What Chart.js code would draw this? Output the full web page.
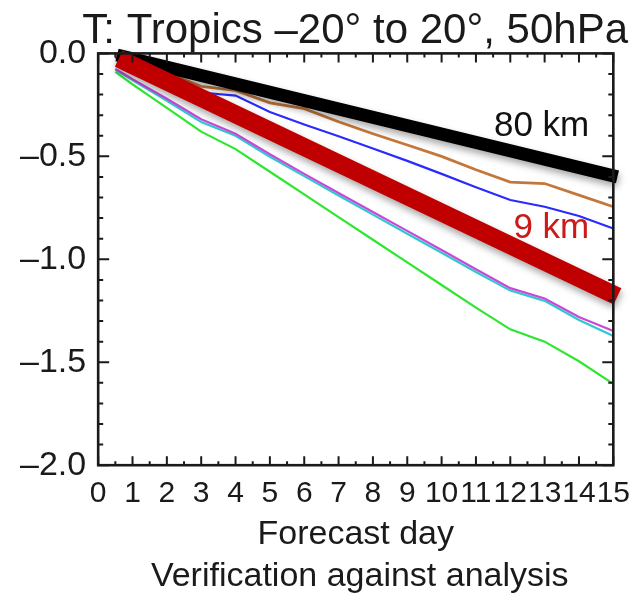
<!DOCTYPE html>
<html>
<head>
<meta charset="utf-8">
<script src="https://cdn.jsdelivr.net/npm/chart.js@4.4.1/dist/chart.umd.min.js"></script>
<style>
  html, body { margin: 0; padding: 0; background: #ffffff; }
  canvas { display: block; }
</style>
</head>
<body>
<canvas id="c" width="636" height="596"></canvas>
<script>
// Forecast days at which the experiment scores are stored
const days = [0.5, 1, 2, 3, 4, 5, 6, 7, 8, 9, 10, 11, 12, 13, 14, 15];

// Mean temperature error (K) for each experiment
const brownRun   = [-0.01, -0.035, -0.095, -0.16, -0.18, -0.24, -0.268, -0.332, -0.39, -0.445, -0.50, -0.565, -0.625, -0.632, -0.688, -0.745];
const blueRun    = [-0.02, -0.05, -0.12, -0.19, -0.205, -0.285, -0.345, -0.402, -0.462, -0.522, -0.585, -0.65, -0.712, -0.745, -0.79, -0.85];
const magentaRun = [-0.075, -0.125, -0.22, -0.32, -0.39, -0.49, -0.585, -0.678, -0.77, -0.862, -0.955, -1.048, -1.14, -1.19, -1.28, -1.348];
const cyanRun    = [-0.08, -0.13, -0.23, -0.333, -0.40, -0.502, -0.596, -0.69, -0.783, -0.876, -0.968, -1.062, -1.152, -1.202, -1.295, -1.372];
const greenRun   = [-0.09, -0.15, -0.265, -0.38, -0.465, -0.575, -0.685, -0.795, -0.905, -1.015, -1.125, -1.235, -1.34, -1.40, -1.495, -1.605];

// Overall trend lines for the two resolutions
const trendDays  = [0.55, 15.12];
const trend80km  = [-0.008, -0.6];
const trend9kmDays = [0.6, 15.12];
const trend9km   = [-0.025, -1.18];

// Axis ticks
const dayTicks   = [0, 1, 2, 3, 4, 5, 6, 7, 8, 9, 10, 11, 12, 13, 14, 15];
const valueTicks = [0, -0.5, -1.0, -1.5, -2.0];

// Trend labels: text and anchor (day, value)
const trendLabels = [
  { text: '80 km', day: 14.3, value: -0.355, color: '#111111' },
  { text: '9 km',  day: 14.3, value: -0.85,  color: '#cc1a1a' }
];

const FONT = "'Liberation Sans', Arial, Helvetica, sans-serif";
const caption = 'Verification against analysis';

function pairs(xs, ys) { return xs.map((x, i) => ({ x: x, y: ys[i] })); }

function thin(label, ys, color, width, order) {
  return {
    label: label, data: pairs(days, ys), borderColor: color, borderWidth: width,
    pointRadius: 0, tension: 0, order: order, fill: false
  };
}

// Soft drop shadow under the thick trend lines
const shadowPlugin = {
  id: 'trendShadow',
  beforeDatasetDraw(chart, args) {
    const ds = chart.data.datasets[args.index];
    if (!ds.shadow) return;
    const ctx = chart.ctx;
    ctx.save();
    ctx.shadowColor = 'rgba(0,0,0,0.35)';
    ctx.shadowBlur = 7;
    ctx.shadowOffsetX = 1;
    ctx.shadowOffsetY = 4;
  },
  afterDatasetDraw(chart, args) {
    const ds = chart.data.datasets[args.index];
    if (!ds.shadow) return;
    chart.ctx.restore();
  }
};

// Box frame with inward major/minor ticks on all four sides
const framePlugin = {
  id: 'frameTicks',
  afterDraw(chart) {
    const ctx = chart.ctx;
    const { left, right, top, bottom } = chart.chartArea;
    const xs = chart.scales.x, ys = chart.scales.y;
    ctx.save();
    ctx.strokeStyle = '#1a1a1a';
    ctx.lineWidth = 2;
    ctx.beginPath();
    const xMin = dayTicks[0], xMax = dayTicks[dayTicks.length - 1];
    for (let d = xMin; d <= xMax + 1e-9; d += 0.5) {
      const px = xs.getPixelForValue(d);
      const len = Number.isInteger(d) ? 9 : 4;
      ctx.moveTo(px, bottom); ctx.lineTo(px, bottom - len);
      ctx.moveTo(px, top);    ctx.lineTo(px, top + len);
    }
    const vMax = valueTicks[0], vMin = valueTicks[valueTicks.length - 1];
    for (let k = 0; k <= Math.round((vMax - vMin) * 10); k++) {
      const v = vMax - k / 10;
      const py = ys.getPixelForValue(v);
      const len = (k % 5 === 0) ? 11 : 5;
      ctx.moveTo(left, py);  ctx.lineTo(left + len, py);
      ctx.moveTo(right, py); ctx.lineTo(right - len, py);
    }
    ctx.stroke();
    ctx.lineWidth = 2.6;
    ctx.strokeRect(left, top, right - left, bottom - top);

    // trend labels
    ctx.textAlign = 'right';
    ctx.textBaseline = 'middle';
    ctx.font = '35px ' + FONT;
    trendLabels.forEach(l => {
      ctx.fillStyle = l.color;
      ctx.fillText(l.text, xs.getPixelForValue(l.day), ys.getPixelForValue(l.value));
    });

    // caption under the axis title
    ctx.textAlign = 'center';
    ctx.fillStyle = '#1a1a1a';
    ctx.font = '34px ' + FONT;
    ctx.fillText(caption, (left + right) / 2 + 4, chart.height - 19);
    ctx.restore();
  }
};

new Chart(document.getElementById('c'), {
  type: 'line',
  data: {
    datasets: [
      { label: '9 km', data: pairs(trend9kmDays, trend9km), borderColor: '#c00000', borderWidth: 18,
        borderCapStyle: 'butt', pointRadius: 0, order: 0, clip: false, shadow: true },
      { label: '80 km', data: pairs(trendDays, trend80km), borderColor: '#000000', borderWidth: 13,
        borderCapStyle: 'butt', pointRadius: 0, order: 1, clip: false, shadow: true },
      thin('brown', brownRun, '#c4773a', 2.8, 2),
      thin('blue', blueRun, '#2b2bff', 2.2, 3),
      thin('magenta', magentaRun, '#c848d8', 2.2, 4),
      thin('cyan', cyanRun, '#2ec8d0', 2.2, 5),
      thin('green', greenRun, '#2ee62e', 2.2, 6)
    ]
  },
  options: {
    responsive: false,
    animation: false,
    devicePixelRatio: 1,
    layout: { padding: { left: 8, right: 8, top: 0, bottom: 41 } },
    plugins: {
      legend: { display: false },
      tooltip: { enabled: false },
      title: {
        display: true,
        text: 'T: Tropics \u201320\u00b0 to 20\u00b0, 50hPa',
        align: 'end',
        color: '#1a1a1a',
        font: { family: FONT, size: 42, weight: 'normal' },
        padding: { top: 6, bottom: -3 }
      }
    },
    scales: {
      x: {
        type: 'linear',
        min: dayTicks[0],
        max: dayTicks[dayTicks.length - 1],
        afterBuildTicks: s => { s.ticks = dayTicks.map(v => ({ value: v })); },
        afterFit: s => { s.paddingRight = Math.max(0, s.paddingRight - 5); },
        ticks: {
          autoSkip: false, maxRotation: 0, minRotation: 0, padding: 11,
          color: '#1a1a1a', font: { family: FONT, size: 30 },
          callback: v => String(v)
        },
        grid: { display: false, drawTicks: false },
        border: { display: false },
        title: {
          display: true, text: 'Forecast day', color: '#1a1a1a',
          font: { family: FONT, size: 34 }, padding: { top: -9, bottom: 0 }
        }
      },
      y: {
        type: 'linear',
        min: valueTicks[valueTicks.length - 1],
        max: valueTicks[0],
        afterBuildTicks: s => { s.ticks = valueTicks.map(v => ({ value: v })); },
        ticks: {
          padding: 12, color: '#1a1a1a', font: { family: FONT, size: 34 },
          callback: v => (v === 0 ? '0.0' : (v < 0 ? '\u2013' : '') + Math.abs(v).toFixed(1))
        },
        grid: { display: false, drawTicks: false },
        border: { display: false }
      }
    }
  },
  plugins: [shadowPlugin, framePlugin]
});
</script>
</body>
</html>
